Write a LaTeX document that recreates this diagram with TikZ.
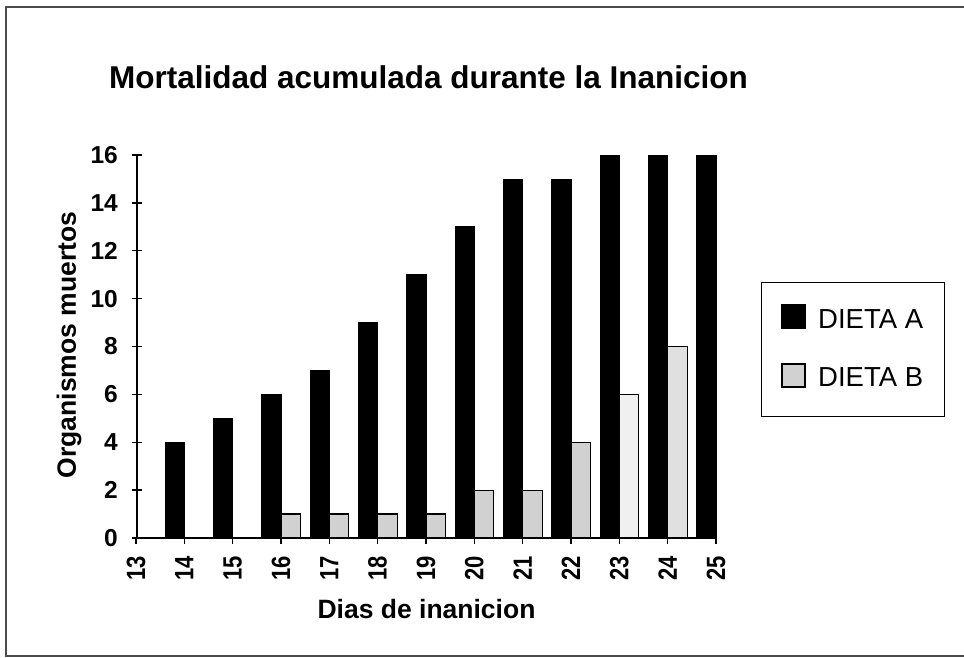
\documentclass[tikz,border=0pt]{standalone}
\usepackage{graphicx}
\usepackage{fontspec}
\setmainfont{Liberation Sans}
\begin{document}
\begin{tikzpicture}[x=1pt,y=-1pt,
  frame/.style={draw=black!70,line width=1.2pt},
  axisline/.style={draw=black,line width=1.4pt},
  barA/.style={fill=black,draw=black,line width=0.6pt},
  barB/.style={draw=black,line width=1.2pt},
  yticklab/.style={font=\fontsize{24.5}{26}\selectfont\bfseries,inner sep=0pt},
  xticklab/.style={font=\fontsize{22}{24}\selectfont\bfseries,inner sep=0pt},
  axlab/.style={font=\fontsize{26.5}{28}\selectfont\bfseries,inner sep=0pt},
  titlelab/.style={font=\fontsize{31.5}{33}\selectfont\bfseries,inner sep=0pt},
  leglab/.style={font=\fontsize{27.5}{29}\selectfont,inner sep=0pt,anchor=west}]
\useasboundingbox (0,0) rectangle (964,658);
% outer frame
\draw[frame] (964,7) -- (6,7) -- (6,656) -- (964,656);
% title
\node[titlelab] (title) at (428.5,77) {Mortalidad acumulada durante la Inanicion};
% bars
\foreach \d/\a/\b/\g in {14/4/0/18,15/5/0/18,16/6/1/18,17/7/1/18,18/9/1/18,19/11/1/18,20/13/2/18,21/15/2/18,22/15/4/18,23/16/6/6,24/16/8/12,25/16/0/18}{
  \pgfmathsetmacro\xt{136+48.33*(\d-13)}
  \fill[barA] (\xt-19.5,538) rectangle (\xt,{538-23.94*\a});
  \ifnum\b>0
    \draw[barB,fill=black!\g] (\xt,538) rectangle (\xt+19.5,{538-23.94*\b});
  \fi
}
% y axis
\draw[axisline] (137,538) -- (137,155);
\foreach \v in {0,2,...,16}{
  \pgfmathsetmacro\yv{538-23.94*\v}
  \draw[axisline] (132,\yv) -- (142,\yv);
  \node[yticklab,anchor=east] (yl\v) at (118,\yv) {\v};
}
% x axis
\draw[axisline] (136,538) -- (716,538);
\foreach \d in {13,...,25}{
  \pgfmathsetmacro\xt{136+48.33*(\d-13)}
  \draw[axisline] (\xt,538) -- (\xt,544);
  \node[xticklab,rotate=90,anchor=east] (xl\d) at (\xt,556) {\scalebox{1}[1.2]{\d}};
}
% axis labels
\node[axlab,rotate=90] (ylab) at (69,345) {Organismos muertos};
\node[axlab] (xlab) at (426.5,609) {Dias de inanicion};
% legend
\node[draw=black,line width=1.2pt,minimum width=183pt,minimum height=134pt,inner sep=0pt,anchor=north west] (legend) at (761,282) {};
\node[draw=black,fill=black,minimum size=24pt,inner sep=0pt] (sqA) at (793.5,316) {};
\node[draw=black,fill=black!18,line width=1.2pt,minimum size=23pt,inner sep=0pt] (sqB) at (793.5,375.5) {};
\node[leglab] (labA) at (818,319) {DIETA A};
\node[leglab] (labB) at (818,377) {DIETA B};
\end{tikzpicture}
\end{document}
